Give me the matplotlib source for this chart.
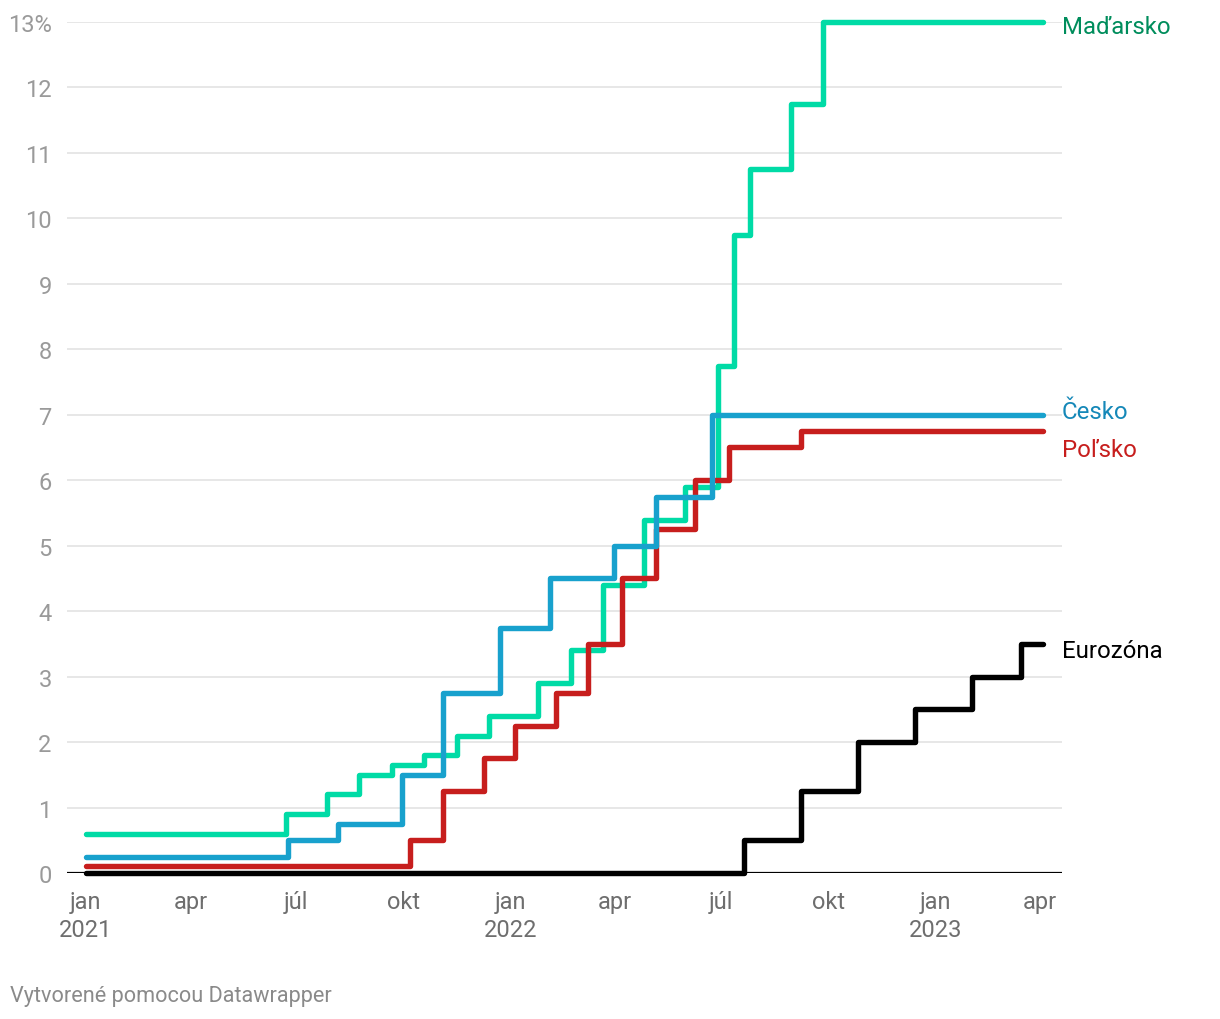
import matplotlib
matplotlib.use("Agg")
import matplotlib.pyplot as plt
import matplotlib.dates as mdates
import pandas as pd

plt.rcParams['font.family'] = ['Roboto', 'DejaVu Sans']

end_date = "2023-04-04"

hu_dates = ["2021-01-01", "2021-06-22", "2021-07-27", "2021-08-24", "2021-09-21", "2021-10-19",
            "2021-11-16", "2021-12-14", "2022-01-25", "2022-02-22", "2022-03-22", "2022-04-26",
            "2022-05-31", "2022-06-28", "2022-07-12", "2022-07-26", "2022-08-30", "2022-09-27"]
hu_vals = [0.6, 0.9, 1.2, 1.5, 1.65, 1.8, 2.1, 2.4, 2.9, 3.4, 4.4, 5.4, 5.9, 7.75, 9.75, 10.75, 11.75, 13.0]

cz_dates = ["2021-01-01", "2021-06-24", "2021-08-06", "2021-09-30", "2021-11-04", "2021-12-23",
            "2022-02-04", "2022-03-31", "2022-05-06", "2022-06-23"]
cz_vals = [0.25, 0.5, 0.75, 1.5, 2.75, 3.75, 4.5, 5.0, 5.75, 7.0]

pl_dates = ["2021-01-01", "2021-10-07", "2021-11-04", "2021-12-09", "2022-01-05", "2022-02-09",
            "2022-03-09", "2022-04-07", "2022-05-06", "2022-06-09", "2022-07-08", "2022-09-08"]
pl_vals = [0.1, 0.5, 1.25, 1.75, 2.25, 2.75, 3.5, 4.5, 5.25, 6.0, 6.5, 6.75]

ez_dates = ["2021-01-01", "2022-07-21", "2022-09-08", "2022-10-27", "2022-12-15", "2023-02-02", "2023-03-16"]
ez_vals = [0.0, 0.5, 1.25, 2.0, 2.5, 3.0, 3.5]

series = [
    ("Maďarsko", hu_dates, hu_vals, "#00dba6", "#008d5c"),
    ("Poľsko", pl_dates, pl_vals, "#c71e1d", "#c71e1d"),
    ("Česko", cz_dates, cz_vals, "#18a1cd", "#1588b8"),
    ("Eurozóna", ez_dates, ez_vals, "#000000", "#000000"),
]

tick_dates = ["2021-01-01", "2021-04-01", "2021-07-01", "2021-10-01", "2022-01-01", "2022-04-01",
              "2022-07-01", "2022-10-01", "2023-01-01", "2023-04-01"]
tick_labels = ["jan\n2021", "apr", "júl", "okt", "jan\n2022", "apr", "júl", "okt", "jan\n2023", "apr"]
y_ticks = list(range(0, 14))
y_labels = [str(v) for v in range(0, 13)] + ["13%"]

label_y = {"Maďarsko": 12.93, "Česko": 7.05, "Poľsko": 6.47, "Eurozóna": 3.4}

fig = plt.figure(figsize=(12.2, 10.2), dpi=100)
ax = fig.add_axes([67/1220, (1020-874)/1020, (1062-67)/1220, (874-23)/1020])

for name, d, v, col, tcol in series:
    x = list(pd.to_datetime(d)) + [pd.Timestamp(end_date)]
    y = list(v) + [v[-1]]
    ax.step(x, y, where='post', color=col, lw=3.9, solid_capstyle='round',
            solid_joinstyle='round', clip_on=False, zorder=3)

ax.set_ylim(0, 13)
ax.set_xlim(pd.Timestamp("2020-12-16"), pd.Timestamp("2023-04-20"))
ax.set_yticks(y_ticks)
ax.set_yticklabels(y_labels)
ax.set_xticks(pd.to_datetime(tick_dates))
ax.set_xticklabels(tick_labels, linespacing=1.3)
ax.grid(axis='y', color='#e3e3e3', lw=1.2, zorder=0)
ax.grid(axis='x', visible=False)
ax.axhline(0, color='#000000', lw=1.6, zorder=2)
for s in ax.spines.values():
    s.set_visible(False)
ax.tick_params(axis='y', length=0, pad=11, labelsize=17, labelcolor='#9a9a9a')
ax.tick_params(axis='x', length=0, pad=12, labelsize=17, labelcolor='#6e6e6e')
for lbl in ax.get_yticklabels():
    lbl.set_horizontalalignment('right')

xr = ax.get_xlim()[1]
for name, d, v, col, tcol in series:
    ax.text(xr, label_y[name], name, color=tcol, fontsize=17.3, va='center', ha='left',
            transform=ax.transData, clip_on=False)

fig.text(10/1220, 1 - 997/1020, "Vytvorené pomocou Datawrapper", color='#8a8a8a',
         fontsize=15.6, va='center', ha='left')

fig.savefig("out.png", dpi=100, facecolor='white')
